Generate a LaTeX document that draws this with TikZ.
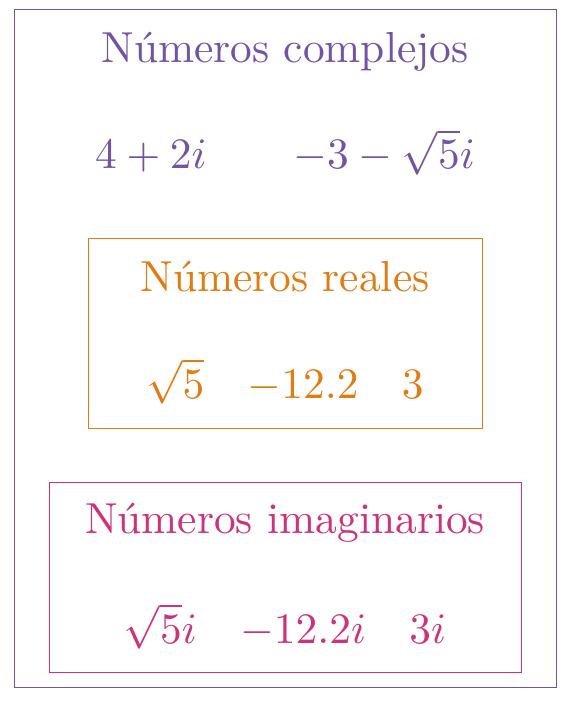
\documentclass[tikz,border=0pt]{standalone}
\usepackage{amsmath,amssymb}
\usepackage{graphicx}
\usepackage{xcolor}
\usepackage{tikz}
\usetikzlibrary{positioning}

\definecolor{complejo}{RGB}{113,83,168}
\definecolor{real}{RGB}{224,124,18}
\definecolor{imag}{RGB}{204,51,122}

\newcommand{\grande}[1]{\scalebox{4.34}{#1}}

\tikzset{
  conjunto/.style={line width=1pt},
  texto/.style={anchor=base,inner sep=0pt}
}

\begin{document}
\begin{tikzpicture}[x=1pt,y=-1pt]
    \useasboundingbox (0,0) rectangle (570,703);
    % Conjuntos (coordenadas en pixeles)
    \draw[conjunto,complejo] (14.5,9.5) rectangle (556.5,687.5);
    \draw[conjunto,real] (88.5,238.5) rectangle (482.5,428.5);
    \draw[conjunto,imag] (49.5,482.5) rectangle (521.5,672.5);
    % Complejos
    \node[texto,complejo] (tcomp) at (285,63) {\grande{Números complejos}};
    \node[texto,complejo] (ncomp) at (285,169) {\grande{$4+2i \qquad {-3}-\sqrt{5}i$}};
    % Reales
    \node[texto,real] (treal) at (285,291) {\grande{Números reales}};
    \node[texto,real] (nreal) at (285,398) {\grande{$\sqrt{5} \quad {-12.2} \quad 3$}};
    % Imaginarios
    \node[texto,imag] (timag) at (285,533) {\grande{Números imaginarios}};
    \node[texto,imag] (nimag) at (285,643) {\grande{$\sqrt{5}i \quad {-12.2i} \quad 3i$}};
\end{tikzpicture}
\end{document}
